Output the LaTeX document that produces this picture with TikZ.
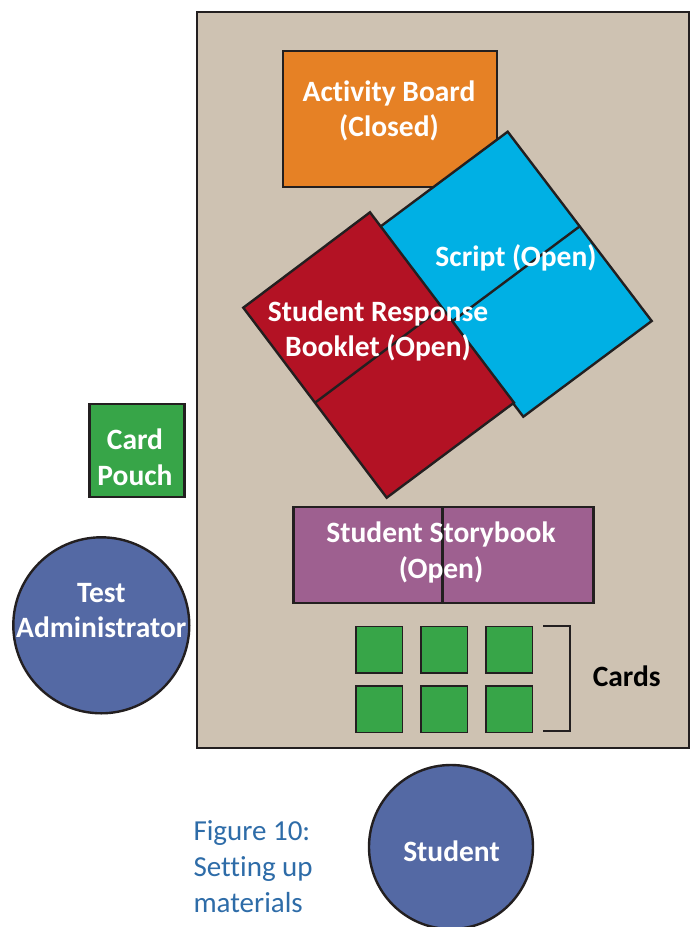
\documentclass[tikz,border=0pt]{standalone}
\usepackage{fontspec}
\usetikzlibrary{calc}
\setmainfont{Carlito}[Ligatures=NoCommon]
\definecolor{tablec}{RGB}{206,194,178}
\definecolor{orangec}{RGB}{230,129,37}
\definecolor{bluec}{RGB}{0,176,228}
\definecolor{redc}{RGB}{179,18,36}
\definecolor{purplec}{RGB}{158,96,144}
\definecolor{greenc}{RGB}{55,165,72}
\definecolor{personc}{RGB}{84,105,164}
\definecolor{captionc}{RGB}{46,108,168}
\definecolor{linec}{RGB}{35,31,32}
\begin{document}
\begin{tikzpicture}[x=1pt,y=-1pt,
  edge/.style={draw=linec,line width=2.4pt,line join=miter},
  lbl/.style={text=white,font=\fontsize{29.5}{35.5}\selectfont\bfseries,align=center,inner sep=0pt},
  card/.style={edge,fill=greenc,line width=1.6pt},
  person/.style={circle,edge,fill=personc,inner sep=0pt}]
\useasboundingbox (0,0) rectangle (691,927);
% table
\node[edge,fill=tablec,minimum width=492pt,minimum height=736pt,inner sep=0pt,anchor=north west] (table) at (196,11) {};
% activity board
\node[edge,fill=orangec,minimum width=214pt,minimum height=136pt,inner sep=0pt,anchor=north west] (board) at (282,50) {};
\node[lbl] (boardtxt) at (389,111) {Activity Board\\(Closed)};
% script (blue)
\coordinate (sT) at (507.7,131.7);
\coordinate (sR) at (651.7,321);
\coordinate (sB) at (523.3,416.7);
\coordinate (sL) at (379.3,227.4);
\draw[edge,fill=bluec] (sT) -- (sR) -- (sB) -- (sL) -- cycle;
\draw[edge] ($(sT)!0.5!(sR)$) -- ($(sL)!0.5!(sB)$);
% student response booklet (red)
\coordinate (rT) at (370,212.3);
\coordinate (rR) at (514,402.7);
\coordinate (rB) at (386.7,497.7);
\coordinate (rL) at (243.3,307.7);
\draw[edge,fill=redc] (rT) -- (rR) -- (rB) -- (rL) -- cycle;
\draw[edge] ($(rL)!0.5!(rB)$) -- ($(rT)!0.5!(rR)$);
\node[lbl] (scripttxt) at (516,258) {Script (Open)};
\node[lbl] (redtxt) at (378,331) {Student Response\\Booklet (Open)};
% card pouch
\node[edge,fill=greenc,minimum width=95pt,minimum height=93pt,inner sep=0pt,anchor=north west] (pouch) at (88.3,402.7) {};
\node[lbl] (pouchtxt) at (135,457.5) {Card\\Pouch};
% storybook
\node[edge,fill=purplec,minimum width=300pt,minimum height=96pt,inner sep=0pt,anchor=north west] (story) at (292.3,506) {};
\draw[edge] (442.3,506) -- (442.3,602.3);
\node[lbl] (storytxt) at (441,552.5) {Student Storybook\\(Open)};
% cards
\foreach \i/\x in {1/355,2/420,3/485}{
  \foreach \j/\y in {1/625.7,2/685}{
    \node[card,minimum size=46.7pt,inner sep=0pt,anchor=north west] (c\i\j) at (\x,\y) {};
  }
}
\coordinate (brA) at (543.3,625.7);
\coordinate (brB) at (570,625.7);
\coordinate (brC) at (570,731);
\coordinate (brD) at (543.3,731);
\draw[edge,line width=2pt] (brA) -- (brB) -- (brC) -- (brD);
\node[lbl,text=black] (cardstxt) at (626.7,676.7) {Cards};
% people
\node[person,minimum size=176pt] (ta) at (101.3,625.3) {};
\node[lbl] (tatxt) at (101.3,610.5) {Test\\Administrator};
\node[person,minimum size=164pt] (st) at (451,847) {};
\node[lbl] (sttxt) at (451.5,851.7) {Student};
% caption
\node[text=captionc,font=\fontsize{29}{36}\selectfont,align=left,anchor=west,inner sep=0pt] (caption) at (193.3,866.5) {Figure 10:\\Setting up\\materials};
\end{tikzpicture}
\end{document}
